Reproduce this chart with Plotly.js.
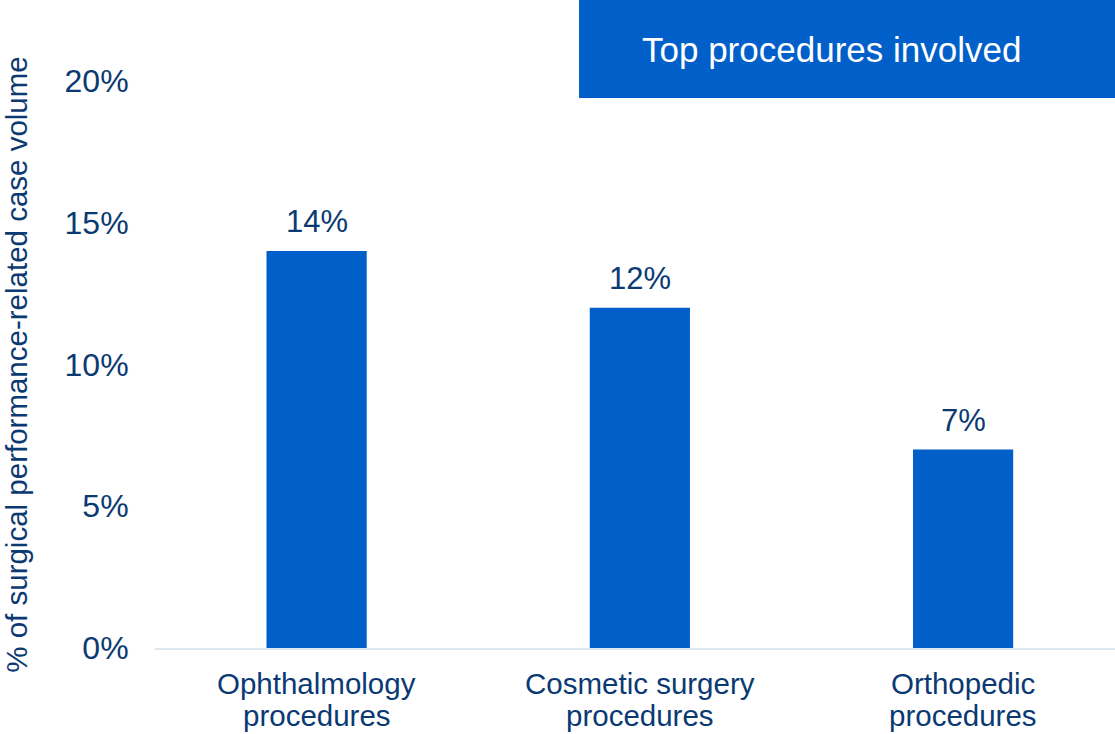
<!DOCTYPE html>
<html>
<head>
<meta charset="utf-8">
<script src="https://cdn.plot.ly/plotly-3.0.1.min.js"></script>
<style>html,body{margin:0;padding:0;background:#fff;}#chart{width:1115px;height:734px;}</style>
</head>
<body>
<div id="chart"></div>
<script>
const categories = ["Ophthalmology<br>procedures", "Cosmetic surgery<br>procedures", "Orthopedic<br>procedures"];
const values = [14, 12, 7];
const valueLabels = ["14%", "12%", "7%"];
const yTickVals = [0, 5, 10, 15, 20];
const yTickText = ["0%", "5%", "10%", "15%", "20%"];
const yTitle = "% of surgical performance-related case volume";
const boxTitle = "Top procedures involved";

const navy = "#0B3A73";
const blue = "#005FC8";
const font = "Liberation Sans, Arial, sans-serif";

const xIdx = categories.map((c, i) => i);

const trace = {
  type: "bar",
  x: xIdx,
  y: values,
  width: 0.31,
  marker: {color: blue},
  hoverinfo: "skip"
};

const annotations = values.map((v, i) => ({
  x: i, y: v, xref: "x", yref: "y",
  text: valueLabels[i], showarrow: false,
  yanchor: "bottom", yshift: 10,
  font: {family: font, size: 31, color: navy}
}));

// category labels, one annotation per line for tighter line spacing
const lineY = [-0.062, -0.119];
categories.forEach((c, i) => {
  c.split("<br>").forEach((line, j) => {
    annotations.push({
      x: i, xref: "x", yref: "paper", y: lineY[j],
      xanchor: "center", yanchor: "middle",
      text: line, showarrow: false,
      font: {family: font, size: 29.5, color: navy}
    });
  });
});

annotations.push({
  xref: "paper", yref: "paper", x: 0.705, y: 1.0564,
  xanchor: "center", yanchor: "middle",
  text: boxTitle, showarrow: false,
  font: {family: font, size: 35, color: "#ffffff"}
});

const layout = {
  width: 1115, height: 734,
  margin: {l: 155, r: 0, t: 81, b: 86},
  paper_bgcolor: "#ffffff", plot_bgcolor: "#ffffff",
  showlegend: false,
  font: {family: font, color: navy},
  xaxis: {
    range: [-0.5, 2.47],
    tickvals: xIdx, showticklabels: false,
    showgrid: false, zeroline: false,
    showline: true, linecolor: "#DCE7F3", linewidth: 2,
    ticks: "",
    fixedrange: true
  },
  yaxis: {
    range: [0, 20],
    tickvals: yTickVals, ticktext: yTickText,
    showgrid: false, zeroline: false, showline: false,
    ticks: "outside", ticklen: 19, tickcolor: "rgba(0,0,0,0)",
    tickfont: {family: font, size: 32, color: navy},
    title: {text: yTitle, font: {family: font, size: 29.5, color: navy}, standoff: 34},
    automargin: false,
    fixedrange: true
  },
  shapes: [{
    type: "rect", xref: "paper", yref: "paper",
    x0: 0.4417, x1: 1.0, y0: 0.9700, y1: 1.1429,
    fillcolor: blue, line: {width: 0}, layer: "below"
  }],
  annotations: annotations
};

Plotly.newPlot("chart", [trace], layout, {displayModeBar: false, staticPlot: true});
</script>
</body>
</html>
